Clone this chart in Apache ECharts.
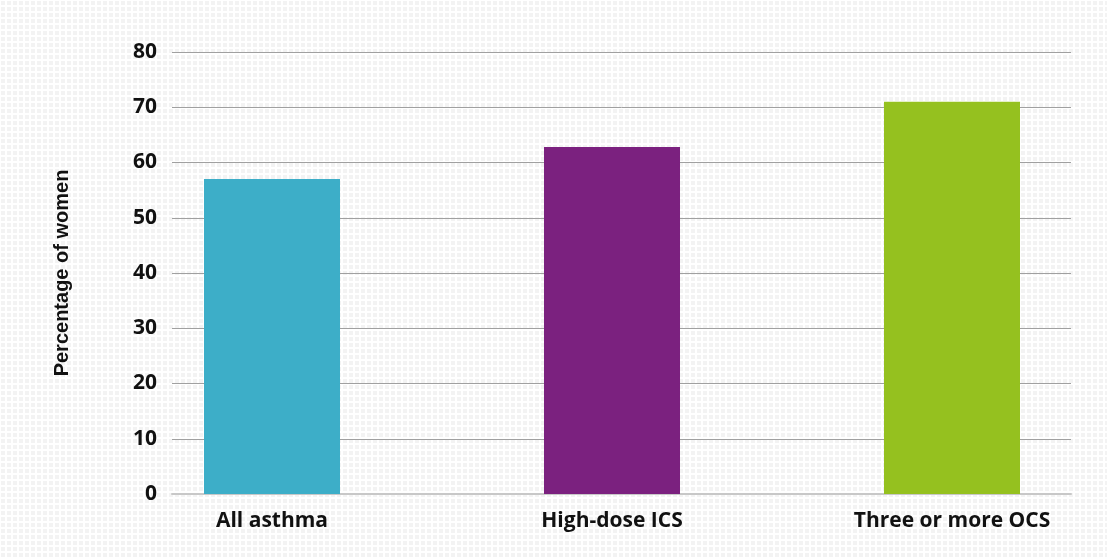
<!DOCTYPE html>
<html>
<head>
<meta charset="utf-8">
<script src="https://cdn.jsdelivr.net/npm/echarts@6/dist/echarts.min.js"></script>
<style>
  html, body { margin: 0; padding: 0; background: #fff; }
  #chart { width: 1107px; height: 559px; }
</style>
</head>
<body>
<div id="chart"></div>
<script>
  // data
  const categories = ['All asthma', 'High-dose ICS', 'Three or more OCS']
  const values = [57.0, 62.8, 71.0]
  const barColors = ['#3daec8', '#7b217f', '#95c11f']
  const yTicks = { min: 0, max: 80, interval: 10 }
  const yName = 'Percentage of women'

  // light dotted background pattern
  const pat = document.createElement('canvas')
  pat.width = 6
  pat.height = 6
  const ctx = pat.getContext('2d')
  ctx.fillStyle = '#ffffff'
  ctx.fillRect(0, 0, 6, 6)
  ctx.fillStyle = '#f3f3f3'
  ctx.fillRect(1, 1, 4, 4)

  let chart = echarts.init(document.getElementById('chart'))
  chart.setOption({
    backgroundColor: { image: pat, repeat: 'repeat' },
    animation: false,
    grid: [
      // gridlines + y labels
      { left: 172, right: 36, top: 52, bottom: 65, outerBoundsMode: 'none' },
      // bars (wider band so bars sit where the original has them)
      { left: 102, width: 1020, top: 52, bottom: 65, outerBoundsMode: 'none' }
    ],
    xAxis: [
      {
        gridIndex: 0, type: 'category', data: categories,
        axisLine: { lineStyle: { color: '#c8c8c8', width: 2 } },
        axisTick: { show: false },
        axisLabel: { show: false }
      },
      {
        gridIndex: 1, type: 'category', data: categories,
        axisLine: { show: false },
        axisTick: { show: false },
        axisLabel: {
          margin: 17, color: '#111', fontSize: 21, fontWeight: 'bold',
          fontFamily: 'Open Sans'
        }
      }
    ],
    yAxis: [
      {
        gridIndex: 0, type: 'value',
        min: yTicks.min, max: yTicks.max, interval: yTicks.interval,
        name: yName, nameLocation: 'middle', nameGap: 100, nameRotate: 90,
        nameTextStyle: {
          color: '#111', fontSize: 20, fontWeight: 'bold',
          fontFamily: 'Liberation Sans'
        },
        axisLine: { show: false },
        axisTick: { show: false },
        axisLabel: {
          margin: 15, color: '#111', fontSize: 21, fontWeight: 'bold',
          fontFamily: 'Open Sans'
        },
        splitLine: { lineStyle: { color: '#a0a0a0', width: 1 } }
      },
      {
        gridIndex: 1, type: 'value',
        min: yTicks.min, max: yTicks.max, interval: yTicks.interval,
        show: false, splitLine: { show: false }
      }
    ],
    series: [{
      type: 'bar',
      xAxisIndex: 1,
      yAxisIndex: 1,
      barWidth: 136,
      data: values.map((v, i) => ({ value: v, itemStyle: { color: barColors[i] } }))
    }]
  })
</script>
</body>
</html>
